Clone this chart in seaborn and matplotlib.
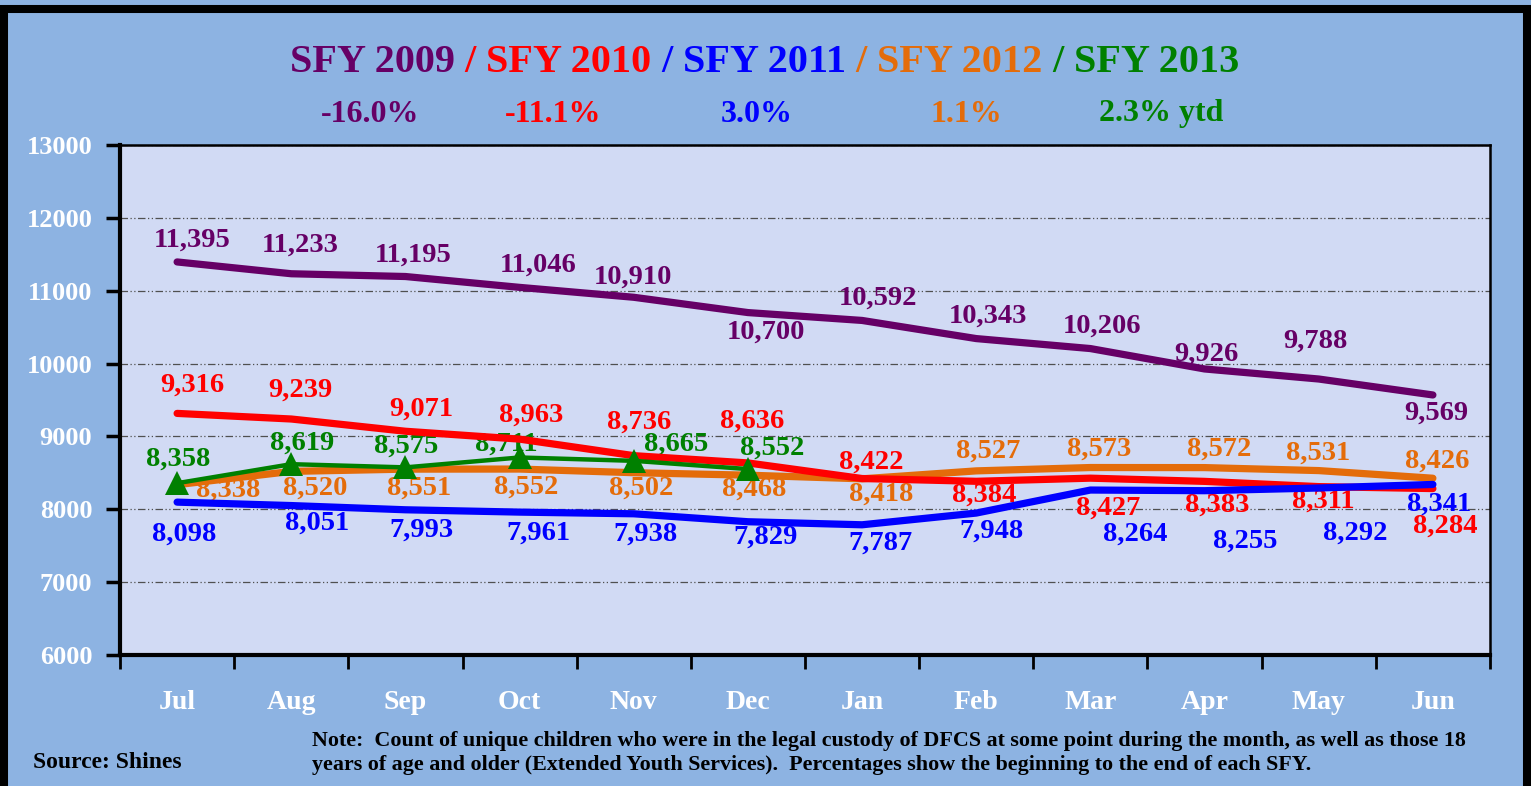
import numpy as np
import pandas as pd
import seaborn as sns
import matplotlib.pyplot as plt
from matplotlib.patches import Rectangle
from matplotlib.ticker import FixedLocator

# data
MONTHS = ["Jul", "Aug", "Sep", "Oct", "Nov", "Dec", "Jan", "Feb", "Mar", "Apr", "May", "Jun"]
SFY_2009 = [11395, 11233, 11195, 11046, 10910, 10700, 10592, 10343, 10206, 9926, 9788, 9569]
SFY_2010 = [9316, 9239, 9071, 8963, 8736, 8636, 8422, 8384, 8427, 8383, 8311, 8284]
SFY_2011 = [8098, 8051, 7993, 7961, 7938, 7829, 7787, 7948, 8264, 8255, 8292, 8341]
SFY_2012 = [8338, 8520, 8551, 8552, 8502, 8468, 8418, 8527, 8573, 8572, 8531, 8426]
SFY_2013 = [8358, 8619, 8575, 8711, 8665, 8552]
PCT_LABELS = ["-16.0%", "-11.1%", "3.0%", "1.1%", "2.3% ytd"]

COLORS = {
    "SFY 2009": "#660066",
    "SFY 2010": "#FF0000",
    "SFY 2011": "#0000FF",
    "SFY 2012": "#E46C0A",
    "SFY 2013": "#008000",
}

# label placement (pixel offsets from the point, screen y down)
LABEL_OFFSETS = {
    "SFY 2009": [(15, -22), (9, -29), (8, -21), (19, -22), (-1, -20), (18, 20),
                 (16, -22), (12, -22), (12, -22), (2, -15), (-3, -38), (3, 18)],
    "SFY 2010": [(15, -28), (9, -29), (16, -22), (12, -24), (5, -33), (4, -42),
                 (9, -16), (8, 14), (18, 30), (13, 24), (5, 15), (12, 38)],
    "SFY 2011": [(7, 32), (26, 18), (16, 20), (19, 21), (12, 20), (18, 15),
                 (18, 18), (15, 18), (45, 44), (41, 50), (37, 45), (6, 20)],
    "SFY 2012": [(51, 6), (24, 17), (14, 19), (7, 18), (7, 15), (6, 14),
                 (19, 15), (12, -20), (9, -18), (15, -18), (-1, -17), (4, -17)],
    "SFY 2013": [(1, -24), (11, -21), (1, -21), (-13, -13), (42, -17), (24, -21)],
}

series = {
    "SFY 2009": SFY_2009,
    "SFY 2010": SFY_2010,
    "SFY 2011": SFY_2011,
    "SFY 2012": SFY_2012,
    "SFY 2013": SFY_2013,
}

rows = []
for name, vals in series.items():
    for m, v in zip(MONTHS, vals):
        rows.append({"month": m, "count": v, "sfy": name})
df = pd.DataFrame(rows)

BG = "#8DB3E2"
PLOT_BG = "#D1DAF4"

sns.set_style("white")
plt.rcParams["font.family"] = ["Liberation Serif", "DejaVu Serif"]
plt.rcParams["font.weight"] = "bold"

fig = plt.figure(figsize=(15.31, 7.86), dpi=100, facecolor=BG)
ax = fig.add_axes([0.0784, 0.1667, 0.9732 - 0.0784, 0.8155 - 0.1667])
ax.set_facecolor(PLOT_BG)

draw_order = ["SFY 2012", "SFY 2010", "SFY 2011", "SFY 2009", "SFY 2013"]
widths = {"SFY 2009": 5.2, "SFY 2010": 5.2, "SFY 2011": 5.2, "SFY 2012": 5.2, "SFY 2013": 3.2}
for z, name in enumerate(draw_order):
    sub = df[df["sfy"] == name]
    sns.lineplot(data=sub, x="month", y="count", ax=ax, color=COLORS[name],
                 linewidth=widths[name], sort=False, zorder=3 + z,
                 marker="^" if name == "SFY 2013" else None,
                 markersize=17, markeredgewidth=0, solid_capstyle="round")

# data labels
for name, vals in series.items():
    for i, v in enumerate(vals):
        dx, dy = LABEL_OFFSETS[name][i]
        ax.annotate(f"{v:,}", (i, v), xytext=(dx, -dy), textcoords="offset pixels",
                    ha="center", va="center", fontsize=20.5, fontweight="bold",
                    color=COLORS[name], zorder=2)

ax.set_xlim(-0.5, len(MONTHS) - 0.5)
ax.set_ylim(6000, 13000)
ax.set_yticks(np.arange(6000, 13001, 1000))
ax.set_xticks(range(len(MONTHS)))
ax.set_xticklabels(MONTHS)
ax.xaxis.set_minor_locator(FixedLocator(np.arange(-0.5, len(MONTHS), 1.0)))
ax.set_xlabel("")
ax.set_ylabel("")
if ax.get_legend() is not None:
    ax.get_legend().remove()

ax.tick_params(axis="x", which="major", length=0, pad=25, labelsize=20,
               labelcolor="white")
ax.tick_params(axis="x", which="minor", length=10, width=2, color="black",
               direction="out", bottom=True)
ax.tick_params(axis="y", length=10, width=2.5, color="black", direction="out",
               left=True, pad=10, labelsize=19, labelcolor="white")
for lbl in ax.get_xticklabels() + ax.get_yticklabels():
    lbl.set_fontweight("bold")

ax.yaxis.grid(True, color="#505050", linewidth=0.9, linestyle=(0, (6, 2, 1, 2, 1, 2)))
ax.set_axisbelow(True)
for side in ["left", "bottom"]:
    ax.spines[side].set_linewidth(3)
    ax.spines[side].set_color("black")
for side in ["top", "right"]:
    ax.spines[side].set_linewidth(1.8)
    ax.spines[side].set_color("black")

# multi-colored title
renderer = fig.canvas.get_renderer()
pieces = [("SFY 2009", COLORS["SFY 2009"]), (" / ", COLORS["SFY 2010"]),
          ("SFY 2010", COLORS["SFY 2010"]), (" / ", COLORS["SFY 2011"]),
          ("SFY 2011", COLORS["SFY 2011"]), (" / ", COLORS["SFY 2012"]),
          ("SFY 2012", COLORS["SFY 2012"]), (" / ", COLORS["SFY 2013"]),
          ("SFY 2013", COLORS["SFY 2013"])]
x_px = 290
for txt, col in pieces:
    t = fig.text(x_px / fig.bbox.width, 1 - 63 / 786, txt, color=col, fontsize=29,
                 fontweight="bold", ha="left", va="center")
    ext = t.get_window_extent(renderer)
    x_px += ext.width

pct_x = [370, 553, 757, 966, 1161]
for x, txt, name in zip(pct_x, PCT_LABELS, series.keys()):
    fig.text(x / 1531, 1 - 114 / 786, txt, color=COLORS[name], fontsize=23,
             fontweight="bold", ha="center", va="center")

fig.text(33 / 1531, 1 - 762 / 786, "Source: Shines", fontsize=17, fontweight="bold",
         ha="left", va="center", color="black")
fig.text(312 / 1531, 1 - 753 / 786,
         "Note:  Count of unique children who were in the legal custody of DFCS at some point during the month, as well as those 18\n"
         "years of age and older (Extended Youth Services).  Percentages show the beginning to the end of each SFY.",
         fontsize=15.8, fontweight="bold", ha="left", va="center", color="black",
         linespacing=1.22)

# outer black frame
fig.patches.append(Rectangle((0.0023, -0.02), 0.9951, 1.0085, transform=fig.transFigure,
                             fill=False, edgecolor="black", linewidth=5.8))

fig.savefig("out.png", dpi=100, facecolor=BG)
